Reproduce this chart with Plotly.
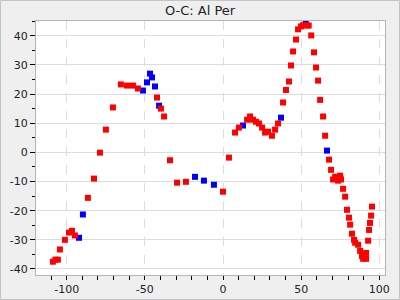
import plotly.graph_objects as go

title_text = "O-C: Al Per"

red_x = [-108.8, -107.2, -105.6, -104.3, -101.1, -98.5, -96.6, -94.7, -86.4, -82.5, -78.7,
         -74.9, -70.4, -65.3, -61.4, -57.6, -54.4, -42.2, -39.7, -37.7, -33.9, -29.4, -23.7,
         0.0, 3.8, 7.7, 10.2, 15.4, 17.3, 19.2, 21.1, 23.0, 25.0, 26.9, 28.8, 31.3, 33.3, 35.2,
         38.4, 40.3, 42.2, 43.5, 44.8, 46.7, 48.0, 49.9, 51.2, 53.7, 54.8, 56.4, 58.2, 59.5,
         60.8, 62.1, 64.0, 65.3, 67.8, 69.1, 70.4, 71.7, 73.0, 73.6, 74.9, 75.5, 76.8, 78.1,
         79.3, 80.6, 81.3, 82.5, 83.8, 84.5, 86.4, 87.7, 88.9, 89.6, 91.5, 91.5, 92.8, 93.4,
         94.0, 94.7, 95.3]
red_y = [-37.5, -36.8, -36.8, -33.3, -30.0, -27.5, -26.9, -28.5, -15.6, -9.0, -0.1,
         7.8, 15.4, 23.3, 22.9, 22.9, 21.9, 18.8, 15.0, 12.3, -2.7, -10.4, -10.1,
         -13.5, -1.8, 6.8, 8.5, 11.2, 12.3, 11.2, 10.5, 9.9, 8.5, 6.8, 7.1, 5.7, 7.8, 9.9,
         17.1, 21.4, 24.3, 29.8, 34.6, 38.7, 42.2, 43.2, 43.6, 43.5, 43.5, 40.1, 34.3, 29.1,
         24.6, 18.0, 12.3, 5.7, -2.5, -6.0, -9.3, -8.4, -8.4, -9.7, -8.0, -9.3, -12.5, -15.2,
         -19.7, -22.4, -24.8, -27.9, -30.0, -31.0, -31.7, -33.8, -35.5, -36.5, -36.5, -34.5,
         -30.3, -26.6, -24.2, -21.7, -18.6]

blue_x = [-92.1, -89.6, -51.2, -48.6, -46.7, -45.4, -43.5, -40.9, -17.9, -12.2, -5.8,
          12.8, 37.1, 52.9, 66.5]
blue_y = [-29.3, -21.3, 21.2, 24.0, 27.0, 25.7, 22.6, 16.0, -8.4, -9.7, -11.1,
          9.2, 11.9, 44.4, 0.6]

x_ticks = [-100, -50, 0, 50, 100]
x_labels = ["-100", "-50", "0", "50", "100"]
y_ticks = [-40, -30, -20, -10, 0, 10, 20, 30, 40]
y_labels = ["-40", "-30", "-20", "-10", "0", "10", "20", "30", "40"]

W, H = 400, 300
L, R, T, B = 36, 15, 21, 25
pw, ph = W - L - R, H - T - B

fig = go.Figure()
fig.add_trace(go.Scatter(x=blue_x, y=blue_y, mode="markers",
                         marker=dict(symbol="square", size=6, color="#0000ff"),
                         showlegend=False, cliponaxis=True))
fig.add_trace(go.Scatter(x=red_x, y=red_y, mode="markers",
                         marker=dict(symbol="square", size=6, color="#ff0000"),
                         showlegend=False, cliponaxis=True))

font = "DejaVu Sans, Verdana, sans-serif"
fig.update_layout(
    width=W, height=H,
    margin=dict(l=L, r=R, t=T, b=B),
    paper_bgcolor="#efefef",
    plot_bgcolor="#ffffff",
    title=dict(text=title_text, x=0.5, xanchor="center", y=1 - 10.5 / H, yanchor="middle",
               yref="container", font=dict(family=font, size=13, color="#222")),
    font=dict(family=font, size=11, color="#222"),
    xaxis=dict(range=[-119.6, 103.6], tickmode="array", tickvals=x_ticks, ticktext=x_labels,
               ticks="outside", ticklen=4, automargin=False,
               tickcolor="#000", showline=True, mirror=True, linecolor="#b4b4b4",
               showgrid=True, gridcolor="#dddddd", griddash="dash", zeroline=False,
               minor=dict(dtick=10, tick0=0, ticks="outside", ticklen=4, tickcolor="#000",
                          showgrid=False),
               tickfont=dict(size=11)),
    yaxis=dict(range=[-42.06, 45.05], tickmode="array", tickvals=y_ticks, ticktext=y_labels,
               ticks="outside", ticklen=5, automargin=False,
               tickcolor="#000", showline=True, mirror=True, linecolor="#b4b4b4",
               showgrid=True, gridcolor="#dddddd", zeroline=False,
               minor=dict(dtick=5, tick0=0, ticks="outside", ticklen=3, tickcolor="#000",
                          showgrid=False),
               tickfont=dict(size=11)),
)

# outer border of the whole picture
fig.add_shape(type="rect", xref="paper", yref="paper",
              x0=(-L + 0.5) / pw, x1=(W - L - 0.5) / pw,
              y0=(-B + 0.5) / ph, y1=(H - B - 0.5) / ph,
              line=dict(color="#c4c4c4", width=1), layer="below")

fig.write_html("out.html")
